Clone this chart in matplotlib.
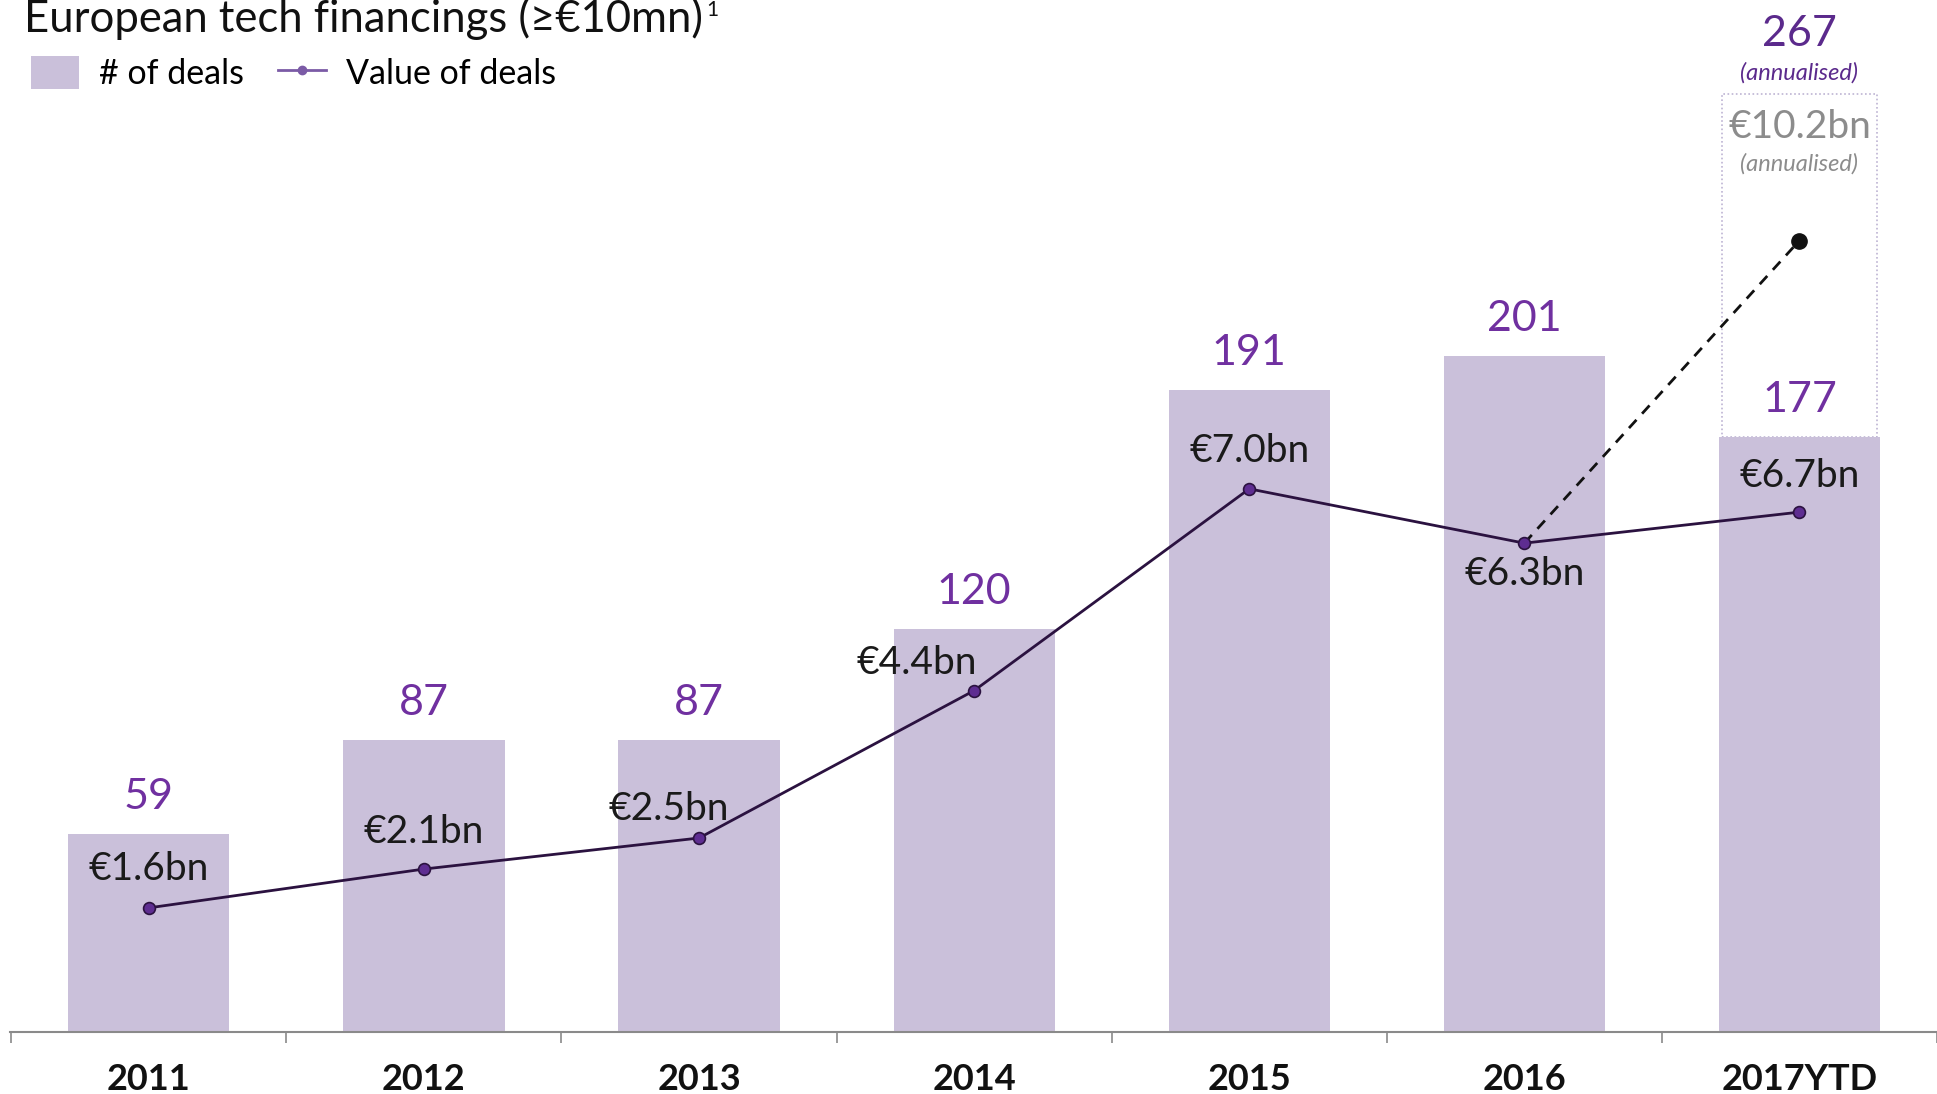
import matplotlib
matplotlib.use("Agg")
import matplotlib.pyplot as plt
from matplotlib.patches import Rectangle, Patch
from matplotlib.lines import Line2D

# === Data ===
years = ["2011", "2012", "2013", "2014", "2015", "2016", "2017YTD"]
deal_counts = [59, 87, 87, 120, 191, 201, 177]
deal_values = [1.6, 2.1, 2.5, 4.4, 7.0, 6.3, 6.7]
value_labels = ["€1.6bn", "€2.1bn", "€2.5bn", "€4.4bn", "€7.0bn", "€6.3bn", "€6.7bn"]
annualised_count = 267
annualised_value = 10.2

# label offsets (points) for the value labels
value_offsets = [(0, 28), (0, 27), (-22, 21), (-41, 20), (0, 27), (0, -22), (0, 26)]

# === Style ===
FONT = ["Lato", "DejaVu Sans"]
plt.rcParams["font.family"] = FONT
BAR_COLOR = "#CAC0DA"
PURPLE = "#7030A0"
LINE_COLOR = "#2B1240"
MARKER_COLOR = "#5E2D91"
GREY = "#8C8C8C"

fig = plt.figure(figsize=(19.37, 10.94), dpi=100)
ax = fig.add_axes([0, 62 / 1094, 1, 1032 / 1094])
ax2 = ax.twinx()

x = list(range(len(years)))
ax.bar(x, deal_counts, width=0.586, color=BAR_COLOR, zorder=1)
ax.set_ylim(0, 307)
ax2.set_ylim(0, 13.3)
ax.set_xlim(-0.541, 6.467)

# count labels
for xi, c in zip(x, deal_counts):
    ax.annotate(str(c), (xi, c), xytext=(0, 26.6), textcoords="offset points",
                ha="center", va="center", fontsize=31, color=PURPLE)

# annualised box above the last bar
BOX_TOP = 279
last = len(years) - 1
box = Rectangle((last - 0.283, deal_counts[-1]), 0.566, BOX_TOP - deal_counts[-1],
                fill=False, edgecolor="#BDB4D3", linestyle=(0, (1, 1.5)), linewidth=1.2, zorder=0)
ax.add_patch(box)
ax.annotate(str(annualised_count), (last, BOX_TOP), xytext=(0, 43), textcoords="offset points",
            ha="center", va="center", fontsize=31, color="#5B2A8C")
ax.annotate("(annualised)", (last, BOX_TOP), xytext=(0, 15), textcoords="offset points",
            ha="center", va="center", fontsize=17, color="#5B2A8C", style="italic")
ax.annotate(f"€{annualised_value}bn", (last, BOX_TOP), xytext=(0, -24), textcoords="offset points",
            ha="center", va="center", fontsize=28, color=GREY)
ax.annotate("(annualised)", (last, BOX_TOP), xytext=(0, -50), textcoords="offset points",
            ha="center", va="center", fontsize=17, color=GREY, style="italic")

# value line
ax2.plot(x, deal_values, color=LINE_COLOR, linewidth=2, marker="o", markersize=8.5,
         markerfacecolor=MARKER_COLOR, markeredgecolor=LINE_COLOR, markeredgewidth=1.2, zorder=3)
ax2.plot([x[-2], x[-1]], [deal_values[-2], annualised_value], color="#111111", linewidth=2,
         linestyle=(0, (4, 3)), zorder=2)
ax2.plot([x[-1]], [annualised_value], "o", color="#111111", markersize=11, zorder=3)

for xi, v, lab, off in zip(x, deal_values, value_labels, value_offsets):
    ax2.annotate(lab, (xi, v), xytext=off, textcoords="offset points",
                 ha="center", va="center", fontsize=28, color="#1A1A1A")

# axes styling
for a in (ax, ax2):
    for s in ("top", "right", "left"):
        a.spines[s].set_visible(False)
    a.set_yticks([])
ax2.spines["bottom"].set_visible(False)
ax.spines["bottom"].set_color("#8A8A8A")
ax.spines["bottom"].set_linewidth(1.5)
ax.spines["bottom"].set_bounds(-0.506, 6.6)

ax.set_xticks(x)
ax.set_xticklabels(years, fontsize=26, fontweight="bold", color="#111111")
ax.tick_params(axis="x", which="major", length=0, pad=22)
ax.set_xticks([i + 0.5 for i in range(-1, len(years))], minor=True)
ax.tick_params(axis="x", which="minor", length=8, width=1.2, color="#8A8A8A", direction="out")

# title + legend
title = fig.text(24 / 1937, 1 - 19 / 1094, "European tech financings (≥€10mn)", fontsize=31.4,
                 ha="left", va="center", color="#111111")
fig.canvas.draw()
bb = title.get_window_extent()
fig.text((bb.x1 + 3) / 1937, 1 - 10 / 1094, "1", fontsize=15, ha="left", va="center",
         color="#111111")

handles = [Patch(facecolor=BAR_COLOR, edgecolor="none"),
           Line2D([], [], color="#7B5BA6", linewidth=2, marker="o", markersize=6,
                  markerfacecolor="#7B5BA6")]
fig.legend(handles, ["# of deals", "Value of deals"], loc="center left",
           bbox_to_anchor=(31 / 1937, 1 - 73 / 1094), ncol=2, frameon=False, fontsize=24.5,
           handlelength=1.4, handleheight=1.1, columnspacing=1.0, handletextpad=0.6,
           borderpad=0, borderaxespad=0)

fig.savefig("out.png", dpi=100)
